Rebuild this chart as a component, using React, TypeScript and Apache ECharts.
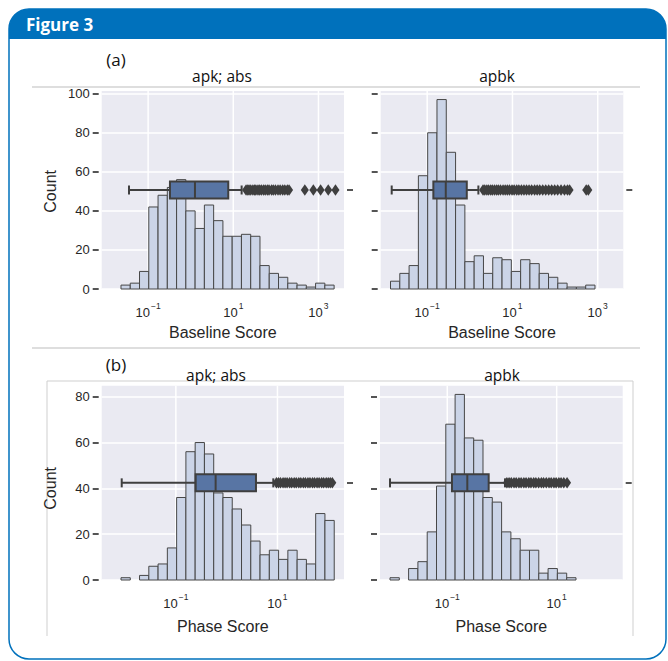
import { useEffect, useRef } from "react";
import * as echarts from "echarts";

// ---------- data (x values are log10 of the score) ----------
// (a) Baseline Score, apk; abs
const ulBinStart = -1.637;
const ulBinWidth = 0.2176;
const ulCounts = [2, 3, 9, 42, 48, 52, 56, 40, 31, 43, 35, 27, 27, 28, 27, 12, 8, 6, 3, 2, 1, 3, 2];
const ulBox = [-1.449, -0.487, 0.1, 0.882, 1.196]; // whisker low, Q1, median, Q3, whisker high
const ulOutliers = [1.3, 1.34, 1.37, 1.41, 1.46, 1.5, 1.53, 1.58, 1.62, 1.66, 1.71, 1.75, 1.8, 1.84, 1.9, 1.94, 1.99, 2.05, 2.1, 2.16, 2.21, 2.27, 2.31, 2.68, 2.88, 3.05, 3.23, 3.4];

// (a) Baseline Score, apbk
const urBinStart = -1.86;
const urBinWidth = 0.218;
const urCounts = [4, 8, 12, 58, 80, 97, 70, 43, 14, 17, 8, 16, 15, 9, 15, 13, 8, 6, 3, 1, 1, 2];
const urBox = [-1.832, -0.855, -0.564, -0.071, 0.201];
const urOutliers = [0.31, 0.35, 0.4, 0.44, 0.49, 0.53, 0.58, 0.63, 0.67, 0.72, 0.78, 0.83, 0.88, 0.93, 0.99, 1.04, 1.1, 1.15, 1.21, 1.27, 1.33, 1.39, 1.45, 1.52, 1.58, 1.64, 1.71, 1.78, 1.85, 1.92, 1.99, 2.06, 2.14, 2.22, 2.29, 2.34, 2.73, 2.78];

// (b) Phase Score, apk; abs
const llBinStart = -2.08;
const llBinWidth = 0.1825;
const llCounts = [1, 0, 2, 6, 7, 14, 36, 56, 60, 55, 38, 36, 31, 24, 17, 11, 13, 9, 13, 9, 7, 29, 26];
const llBox = [-2.066, -0.61, -0.217, 0.577, 0.918];
const llOutliers = [0.98, 1.02, 1.06, 1.11, 1.15, 1.19, 1.24, 1.28, 1.33, 1.37, 1.42, 1.46, 1.51, 1.55, 1.6, 1.64, 1.69, 1.73, 1.78, 1.82, 1.87, 1.91, 1.96, 2.0, 2.04, 2.08];

// (b) Phase Score, apbk
const lrBinStart = -2.047;
const lrBinWidth = 0.17;
const lrCounts = [1, 0, 5, 8, 21, 41, 68, 81, 62, 61, 36, 34, 21, 18, 13, 13, 3, 5, 3, 1];
const lrBox = [-2.047, -0.914, -0.634, -0.243, 0.055];
const lrOutliers = [0.09, 0.13, 0.17, 0.22, 0.26, 0.31, 0.35, 0.4, 0.44, 0.49, 0.53, 0.58, 0.62, 0.67, 0.72, 0.76, 0.81, 0.86, 0.9, 0.95, 0.99, 1.04, 1.08, 1.13, 1.19];

// tick exponents shown on the x axes
const upperTicks = [-1, 1, 3];
const lowerTicks = [-1, 1];

// ---------- styles ----------
const BG = "#EAEAF2";
const BAR_FILL = "#cbd4e7";
const BAR_EDGE = "#474747";
const BOX_FILL = "#5875A4";
const DARK = "#3f3f3f";
const TXT = "#262626";
const SANS = "'Liberation Sans', Arial, sans-serif";
const TITLE_FONT = "'Open Sans', sans-serif";
const BLUE = "#0071BC";

type Panel = {
  left: number; width: number; top: number; height: number; bgTop: number; bgHeight: number;
  xMin: number; xMax: number; yMax: number; yLabels: boolean; xName: string; nameGap: number;
  binStart: number; binWidth: number; counts: number[]; box: number[]; outliers: number[]; ticks: number[];
};

const panels: Panel[] = [
  { left: 101.7, width: 242.3, top: 93.7, height: 195.3, bgTop: 91, bgHeight: 198, xMin: -2.09, xMax: 3.6, yMax: 100, yLabels: true, xName: "Baseline Score", nameGap: 35,
    binStart: ulBinStart, binWidth: ulBinWidth, counts: ulCounts, box: ulBox, outliers: ulOutliers, ticks: upperTicks },
  { left: 380.7, width: 242.6, top: 93.7, height: 195.3, bgTop: 91, bgHeight: 198, xMin: -2.09, xMax: 3.6, yMax: 100, yLabels: false, xName: "Baseline Score", nameGap: 35,
    binStart: urBinStart, binWidth: urBinWidth, counts: urCounts, box: urBox, outliers: urOutliers, ticks: upperTicks },
  { left: 101.7, width: 242.3, top: 396.7, height: 183.3, bgTop: 385.7, bgHeight: 194.3, xMin: -2.46, xMax: 2.31, yMax: 80, yLabels: true, xName: "Phase Score", nameGap: 38,
    binStart: llBinStart, binWidth: llBinWidth, counts: llCounts, box: llBox, outliers: llOutliers, ticks: lowerTicks },
  { left: 380, width: 242.7, top: 396.7, height: 183.3, bgTop: 385.7, bgHeight: 194.3, xMin: -2.23, xMax: 2.207, yMax: 80, yLabels: false, xName: "Phase Score", nameGap: 38,
    binStart: lrBinStart, binWidth: lrBinWidth, counts: lrCounts, box: lrBox, outliers: lrOutliers, ticks: lowerTicks },
];

function buildOption() {
  const grid: any[] = [];
  const xAxis: any[] = [];
  const yAxis: any[] = [];
  const series: any[] = [];

  panels.forEach((p, i) => {
    const hi = 2 * i;
    const bi = 2 * i + 1;
    grid.push({ left: p.left, top: p.top, width: p.width, height: p.height, show: false });
    grid.push({ left: p.left, top: p.bgTop, width: p.width, height: p.bgHeight, show: true, backgroundColor: BG, borderWidth: 0 });

    xAxis.push({
      gridIndex: hi, type: "value", min: p.xMin, max: p.xMax, minInterval: 1, maxInterval: 1,
      axisLine: { show: false, onZero: false }, axisTick: { show: false }, splitLine: { show: false },
      axisLabel: {
        margin: 12,
        formatter: (v: number) => {
          const r = Math.round(v);
          if (Math.abs(v - r) > 1e-6 || p.ticks.indexOf(r) < 0) return "";
          return `{b|10}{s|${r < 0 ? "\u2212" : ""}${Math.abs(r)}}`;
        },
        rich: {
          b: { fontSize: 13, fontFamily: SANS, color: TXT, lineHeight: 18, verticalAlign: "bottom" },
          s: { fontSize: 8.5, fontFamily: SANS, color: TXT, lineHeight: 18, verticalAlign: "top", padding: [0, 0, 0, 1] },
        },
      },
      name: p.xName, nameLocation: "middle", nameGap: p.nameGap,
      nameTextStyle: { fontSize: 16, fontFamily: SANS, color: TXT },
    });
    xAxis.push({ gridIndex: bi, type: "value", min: p.xMin, max: p.xMax, show: false, axisLine: { onZero: false } });

    yAxis.push({
      gridIndex: hi, type: "value", min: 0, max: p.yMax, interval: 20, offset: 3,
      axisLine: { show: false, onZero: false },
      axisTick: { show: true, length: 6, lineStyle: { color: "#2a2a2a", width: 1.6 } },
      axisLabel: { show: p.yLabels, margin: 9, fontSize: 13, fontFamily: SANS, color: TXT },
      splitLine: { show: true, lineStyle: { color: "#ffffff", width: 1.5 } },
      name: p.yLabels ? "Count" : "", nameLocation: "middle", nameGap: 40,
      nameTextStyle: { fontSize: 16, fontFamily: SANS, color: TXT },
    });
    yAxis.push({
      gridIndex: bi, type: "category", data: [""], position: "right", offset: 3,
      axisLine: { show: false, onZero: false },
      axisTick: { show: true, alignWithLabel: true, length: 6, lineStyle: { color: "#2a2a2a", width: 1.6 } },
      axisLabel: { show: false }, splitLine: { show: false },
    });

    // vertical grid lines at the labelled decades
    series.push({
      type: "custom", xAxisIndex: bi, yAxisIndex: bi, z: 1, silent: true,
      data: p.ticks.map((t) => [t, 0]), encode: { x: 0, y: 1 },
      renderItem: (params: any, api: any) => {
        const x = api.coord([api.value(0), 0])[0];
        const cs = params.coordSys;
        return { type: "line", shape: { x1: x, y1: cs.y, x2: x, y2: cs.y + cs.height }, style: { stroke: "#ffffff", lineWidth: 1.5 } };
      },
    });

    // histogram
    series.push({
      type: "custom", xAxisIndex: hi, yAxisIndex: hi, z: 2, silent: true,
      data: p.counts.map((c, k) => [p.binStart + k * p.binWidth, p.binStart + (k + 1) * p.binWidth, c]),
      encode: { x: [0, 1], y: 2 },
      renderItem: (_params: any, api: any) => {
        const c = api.value(2);
        if (!c) return null;
        const a = api.coord([api.value(0), c]);
        const b = api.coord([api.value(1), 0]);
        return { type: "rect", shape: { x: a[0], y: a[1], width: b[0] - a[0], height: b[1] - a[1] }, style: { fill: BAR_FILL, stroke: BAR_EDGE, lineWidth: 1 } };
      },
    });

    // box plot
    series.push({
      type: "custom", xAxisIndex: bi, yAxisIndex: bi, z: 3, silent: true,
      data: [[...p.box, 0]], encode: { x: [0, 1, 2, 3, 4], y: 5 },
      renderItem: (_params: any, api: any) => {
        const xs = [0, 1, 2, 3, 4].map((k) => api.coord([api.value(k), 0])[0]);
        const y = api.coord([api.value(2), 0])[1];
        const h = 17;
        const cap = 9;
        const ls = { stroke: DARK, lineWidth: 2 };
        return {
          type: "group",
          children: [
            { type: "line", shape: { x1: xs[0], y1: y, x2: xs[1], y2: y }, style: ls },
            { type: "line", shape: { x1: xs[3], y1: y, x2: xs[4], y2: y }, style: ls },
            { type: "line", shape: { x1: xs[0], y1: y - cap / 2, x2: xs[0], y2: y + cap / 2 }, style: ls },
            { type: "line", shape: { x1: xs[4], y1: y - cap / 2, x2: xs[4], y2: y + cap / 2 }, style: ls },
            { type: "rect", shape: { x: xs[1], y: y - h / 2, width: xs[3] - xs[1], height: h }, style: { fill: BOX_FILL, stroke: DARK, lineWidth: 2 } },
            { type: "line", shape: { x1: xs[2], y1: y - h / 2, x2: xs[2], y2: y + h / 2 }, style: ls },
          ],
        };
      },
    });

    // outliers
    series.push({
      type: "scatter", xAxisIndex: bi, yAxisIndex: bi, z: 4, silent: true,
      symbol: "diamond", symbolSize: [8, 11.5],
      itemStyle: { color: DARK, opacity: 1 },
      data: p.outliers.map((v) => [v, 0]),
    });
  });

  const title = (text: string, x: number, y: number, size = 15.5) => ({
    type: "text", z: 20, x, y,
    style: { text, fill: "#111", font: `${size}px ${TITLE_FONT}`, align: "center", verticalAlign: "middle" },
  });

  const graphic: any[] = [
    { type: "rect", z: -20, shape: { x: 9, y: 9, width: 657, height: 650, r: 20 }, style: { fill: "#ffffff", stroke: BLUE, lineWidth: 1.5 } },
    { type: "rect", z: -19, shape: { x: 9, y: 9, width: 657, height: 30, r: [20, 20, 0, 0] }, style: { fill: BLUE } },
    { type: "text", z: 20, x: 26, y: 24.5, style: { text: "Figure 3", fill: "#ffffff", font: `bold 17px ${TITLE_FONT}`, verticalAlign: "middle" } },
    { type: "line", z: -18, shape: { x1: 32, y1: 87, x2: 640, y2: 87 }, style: { stroke: "#bdbdbd", lineWidth: 1 } },
    { type: "line", z: -18, shape: { x1: 32, y1: 348, x2: 640, y2: 348 }, style: { stroke: "#bdbdbd", lineWidth: 1 } },
    { type: "polyline", z: -18, shape: { points: [[47, 636], [47, 381], [633, 381], [633, 636]] }, style: { stroke: "#cfcfcf", lineWidth: 1, fill: null } },
    title("(a)", 116, 59, 17),
    title("(b)", 116, 364, 17),
    title("apk; abs", 222, 75.5),
    title("apbk", 497, 75.5),
    title("apk; abs", 216, 374.5),
    title("apbk", 502, 374.5),
  ];

  return { animation: false, grid, xAxis, yAxis, series, graphic };
}

export default function App() {
  const ref = useRef<HTMLDivElement>(null);
  useEffect(() => {
    if (!ref.current) return;
    const chart = echarts.init(ref.current, undefined, { renderer: "svg" });
    chart.setOption(buildOption() as any);
    return () => chart.dispose();
  }, []);
  return <div ref={ref} style={{ position: "fixed", left: 0, top: 0, width: 668, height: 661, background: "#ffffff" }} />;
}
